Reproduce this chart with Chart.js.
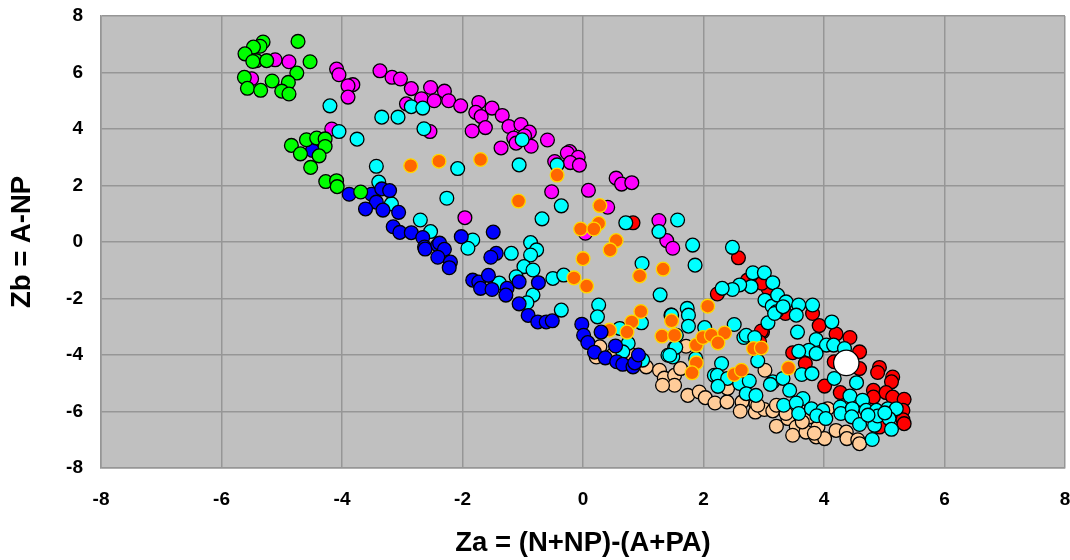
<!DOCTYPE html>
<html>
<head>
<meta charset="utf-8">
<script src="https://cdn.jsdelivr.net/npm/chart.js@4"></script>
<style>
html, body { margin: 0; padding: 0; background: #fff; }
canvas { display: block; }
</style>
</head>
<body>
<canvas id="chart" width="1070" height="560"></canvas>
<script>
// [Za, Zb] values
const green = [[-4.73,7.10],[-5.31,7.08],[-5.36,6.93],[-5.47,6.90],[-5.61,6.66],[-5.42,6.42],[-5.25,6.42],[-5.48,6.39],[-4.53,6.38],[-4.75,5.98],[-5.62,5.83],[-4.89,5.65],[-5.16,5.70],[-5.57,5.44],[-5.35,5.37],[-5.00,5.34],[-4.88,5.24],
  [-4.84,3.42],[-4.59,3.62],[-4.42,3.68],[-4.28,3.65],[-4.28,3.38],[-4.69,3.12],[-4.38,3.05],[-4.52,2.64],[-4.27,2.14],[-4.09,2.17],[-4.08,1.96],[-3.69,1.77]];
const blue = [[-4.49,3.24],[-3.88,1.69],[-3.51,1.69],[-3.34,1.88],[-3.21,1.82],[-3.43,1.41],[-3.61,1.17],[-3.32,1.13],[-3.06,1.05],[-3.15,0.54],[-3.04,0.34],[-2.85,0.33],[-2.66,0.16],[-2.63,-0.18],[-2.62,-0.25],[-2.41,-0.11],[-2.38,-0.04],[-2.30,-0.26],[-2.41,-0.54],[-2.20,-0.71],[-2.22,-0.91],
  [-2.02,0.19],[-1.49,0.35],[-1.44,-0.40],[-1.53,-0.54],[-1.83,-1.35],[-1.73,-1.42],[-1.70,-1.64],[-1.57,-1.18],[-1.51,-1.68],[-1.26,-1.64],[-1.28,-1.88],[-1.06,-1.41],[-0.74,-1.44],[-1.06,-2.19],[-0.91,-2.60],[-0.75,-2.83],[-0.61,-2.83],[-0.51,-2.79],
  [-0.02,-2.91],[0.01,-3.30],[0.08,-3.56],[0.19,-3.90],[0.30,-3.19],[0.37,-4.10],[0.54,-3.68],[0.56,-4.24],[0.66,-4.33],[0.83,-4.42],[0.86,-4.28],[0.92,-4.00]];
const orange = [[-2.86,2.70],[-2.39,2.86],[-1.70,2.92],[-0.43,2.37],[-1.07,1.45],[0.28,1.29],[0.26,0.66],[-0.04,0.46],[0.18,0.46],[0.55,0.05],[0.45,-0.28],[0.00,-0.59],[0.94,-1.20],[1.33,-0.96],[-0.15,-1.27],[0.06,-1.56],
  [0.44,-3.12],[0.96,-2.46],[0.81,-2.83],[0.73,-3.19],[1.31,-3.33],[1.52,-3.30],[1.47,-2.79],[2.07,-2.27],[1.88,-3.65],[1.99,-3.38],[2.13,-3.30],[2.35,-3.22],[2.24,-3.57],[1.88,-4.28],[1.81,-4.63],[2.51,-4.69],[2.63,-4.54],[2.83,-3.77],[2.96,-3.75],[3.41,-4.46]];
const cyan = [[-4.20,4.82],[-4.05,3.91],[-3.75,3.64],[-3.34,4.42],[-3.07,4.42],[-2.85,4.79],[-2.66,4.74],[-2.64,4.01],[-3.43,2.68],[-3.39,2.12],[-3.18,1.35],[-2.70,0.78],[-2.53,0.37],[-2.08,2.60],[-1.06,2.73],[-1.01,3.62],[-0.43,2.73],[-2.26,1.55],[-0.68,0.82],[-0.36,1.28],[0.71,0.68],[1.26,0.37],[1.57,0.78],
  [-1.83,0.07],[-1.91,-0.22],[-1.19,-0.40],[-0.87,-0.02],[-0.77,-0.28],[-0.87,-0.46],[-0.98,-0.87],[-0.83,-0.99],[-1.11,-1.23],[-0.50,-1.29],[-0.32,-1.17],[0.98,-0.76],[-1.39,-1.45],[-0.83,-1.88],[-0.93,-2.15],[-0.36,-2.41],[0.26,-2.23],[0.24,-2.65],[0.61,-3.06],[0.97,-2.86],[1.28,-1.87],[1.46,-2.59],[0.75,-3.59],[0.66,-3.89],[1.41,-4.01],[1.52,-3.75],[1.49,-4.07],[0.99,-4.18],
  [1.82,-0.11],[2.48,-0.19],[1.86,-0.82],[1.73,-2.35],[1.75,-2.59],[1.47,-2.59],[1.75,-2.98],[2.02,-3.03],[1.55,-3.30],[1.54,-3.73],[1.44,-4.01],[1.87,-4.12],[2.30,-4.30],[2.18,-4.72],[2.23,-4.72],[2.40,-4.83],[2.24,-5.11],[2.60,-5.01],[2.76,-4.92],[2.71,-5.37],[2.87,-5.43],[2.51,-2.92],[2.67,-3.38],[2.71,-3.30],[2.85,-3.38],[2.90,-4.21],[3.07,-2.86],[2.82,-1.09],[3.01,-1.09],[3.15,-1.44],[2.79,-1.58],[2.60,-1.52],[2.48,-1.68],[2.31,-1.64],[3.02,-2.06],[3.14,-2.27],[3.21,-2.47],[3.23,-1.88],[3.15,-4.95],[3.11,-5.04],
  [3.37,-2.12],[3.18,-2.53],[3.32,-2.29],[3.58,-2.23],[3.54,-2.59],[3.81,-2.23],[3.56,-3.19],[4.13,-2.83],[3.87,-3.45],[4.04,-3.65],[4.16,-3.65],[4.34,-3.77],[3.75,-3.83],[3.58,-3.87],[3.87,-3.95],[3.63,-4.69],[3.80,-4.66],[4.17,-4.83],[4.54,-4.98],[3.32,-4.83],[3.43,-5.25],[3.65,-5.54],[3.33,-5.78],[3.54,-5.70],[3.58,-6.07],[3.79,-5.90],[3.98,-5.96],[3.88,-6.15],[4.03,-6.25],[4.43,-5.45],[4.64,-5.60],[4.27,-5.84],[4.28,-6.07],[4.47,-5.90],[4.46,-6.19],[4.59,-6.46],[4.84,-6.49],[4.70,-5.96],[4.87,-5.96],[5.06,-5.90],[5.20,-5.90],[4.89,-6.16],[5.08,-6.25],[5.12,-6.63],[4.80,-6.99],[4.73,-6.13],[5.01,-6.05]];
const magenta = [[-5.11,6.45],[-4.88,6.38],[-5.50,5.78],[-4.09,6.12],[-4.05,5.92],[-3.82,5.57],[-3.90,5.53],[-3.90,5.13],[-4.17,4.00],[-3.37,6.06],[-3.17,5.83],[-3.03,5.77],[-2.85,5.43],[-2.53,5.47],[-2.30,5.34],[-2.68,5.07],[-2.93,4.89],[-2.47,5.00],[-2.23,5.00],[-2.03,4.82],[-1.73,4.94],[-1.51,4.74],[-1.78,4.59],[-1.69,4.44],[-1.34,4.48],[-1.23,4.09],[-1.03,4.16],[-1.62,4.05],[-1.84,3.93],[-0.89,3.89],[-1.15,3.68],[-0.97,3.76],[-1.11,3.50],[-0.86,3.39],[-1.36,3.33],[-0.59,3.61],[-2.54,3.91],
  [-0.22,3.20],[-0.26,3.15],[-0.08,3.00],[-0.21,2.81],[-0.06,2.72],[-0.47,2.85],[0.55,2.26],[0.64,2.05],[0.81,2.10],[-0.52,1.78],[0.09,1.83],[0.41,1.23],[-1.96,0.86],[1.26,0.76],[1.39,0.05],[1.49,-0.22],[0.04,0.31]];
const red = [[3.81,-2.53],[3.36,-2.53],[3.92,-2.96],[4.20,-3.26],[4.43,-3.38],[4.59,-3.89],[3.48,-3.92],[3.69,-4.30],[4.59,-4.48],[4.17,-4.24],[4.92,-4.44],[4.89,-4.62],[5.14,-4.78],[5.12,-4.95],[4.01,-5.10],[4.27,-5.33],[4.82,-5.25],[4.82,-5.49],[5.03,-5.33],[5.14,-5.49],[5.33,-5.57],[5.31,-5.96],[5.31,-6.29],[5.33,-6.43],[4.92,-6.55],
  [2.98,-3.18],[3.07,-1.64],[2.97,-1.46],[2.58,-0.56],[2.23,-1.84],[2.96,-3.15],[2.73,-1.35],[2.93,-3.54],[0.83,0.68]];
const peach = [[0.28,-3.71],[0.22,-4.07],[0.49,-4.01],[0.77,-3.94],[1.05,-4.42],[1.27,-4.54],[1.35,-4.82],[1.52,-4.72],[1.52,-5.07],[1.32,-5.07],[1.62,-4.48],[1.71,-3.69],[1.74,-5.43],[1.93,-5.31],[2.03,-5.51],[2.19,-5.70],[2.39,-5.66],[2.40,-5.18],[2.64,-5.66],[2.61,-5.99],[2.87,-5.74],[2.86,-6.02],[3.01,-5.93],[3.15,-5.98],[3.02,-4.54],[3.21,-5.78],[3.21,-6.52],
  [3.40,-6.25],[3.54,-6.55],[3.48,-6.84],[3.70,-6.73],[3.90,-6.55],[3.87,-6.90],[4.01,-6.96],[4.20,-6.67],[4.37,-6.73],[4.38,-6.96],[4.56,-7.00],[4.59,-7.14],[4.06,-5.90],[3.76,-6.19],[3.64,-6.37],[3.84,-6.77],[3.37,-6.07],[2.90,-5.78]];
const white = [[4.37,-4.28]];

const gridColor = '#969696';
const fontFamily = '"Liberation Sans", Arial, sans-serif';

function pts(list) {
  return list.map(p => ({ x: p[0], y: p[1] }));
}

function series(list, fill, edge, radius) {
  return {
    data: pts(list),
    showLine: false,
    pointStyle: 'circle',
    pointRadius: radius || 6.9,
    pointHoverRadius: radius || 6.9,
    pointBackgroundColor: fill,
    pointBorderColor: edge || '#000000',
    pointBorderWidth: 1.3
  };
}

// grey plot background
const plotBackground = {
  id: 'plotBackground',
  beforeDraw(chart) {
    const a = chart.chartArea;
    chart.ctx.save();
    chart.ctx.fillStyle = '#c0c0c0';
    chart.ctx.fillRect(a.left, a.top, a.right - a.left, a.bottom - a.top);
    chart.ctx.restore();
  }
};

// fixed axis box, and no extra room for the end tick labels
function fitAxis(s, size) {
  if (s.isHorizontal()) s.height = size; else s.width = size;
  s.paddingLeft = s.paddingRight = s.paddingTop = s.paddingBottom = 0;
}

function axis(label, pad, size) {
  return {
    type: 'linear',
    min: -8,
    max: 8,
    ticks: {
      stepSize: 2,
      padding: pad,
      color: '#000',
      maxRotation: 0,
      font: { family: fontFamily, size: 19, weight: 'bold' }
    },
    grid: { color: gridColor, lineWidth: 1.5, drawTicks: false },
    border: { color: gridColor, width: 1.5 },
    title: {
      display: true,
      text: label,
      color: '#000',
      font: { family: fontFamily, size: 27.5, weight: 'bold' },
      padding: { top: 0, bottom: 0 }
    },
    afterFit: s => fitAxis(s, size)
  };
}

// first dataset ends up on top
new Chart(document.getElementById('chart'), {
  type: 'scatter',
  data: {
    datasets: [
      series(white, '#ffffff', '#000000', 12.7),
      series(green, '#00ff00'),
      series(blue, '#0000ff'),
      series(orange, '#ff6600', '#ffd800'),
      series(cyan, '#00ffff'),
      series(magenta, '#ff00ff'),
      series(red, '#ff0000'),
      series(peach, '#ffcc99')
    ]
  },
  options: {
    responsive: false,
    animation: false,
    devicePixelRatio: 1,
    layout: { autoPadding: false, padding: { left: 6, top: 16, right: 5, bottom: 0 } },
    plugins: { legend: { display: false }, tooltip: { enabled: false } },
    scales: {
      x: axis('Za = (N+NP)-(A+PA)', 20, 92),
      y: axis('Zb = A-NP', 18, 95)
    }
  },
  plugins: [plotBackground]
});
</script>
</body>
</html>
